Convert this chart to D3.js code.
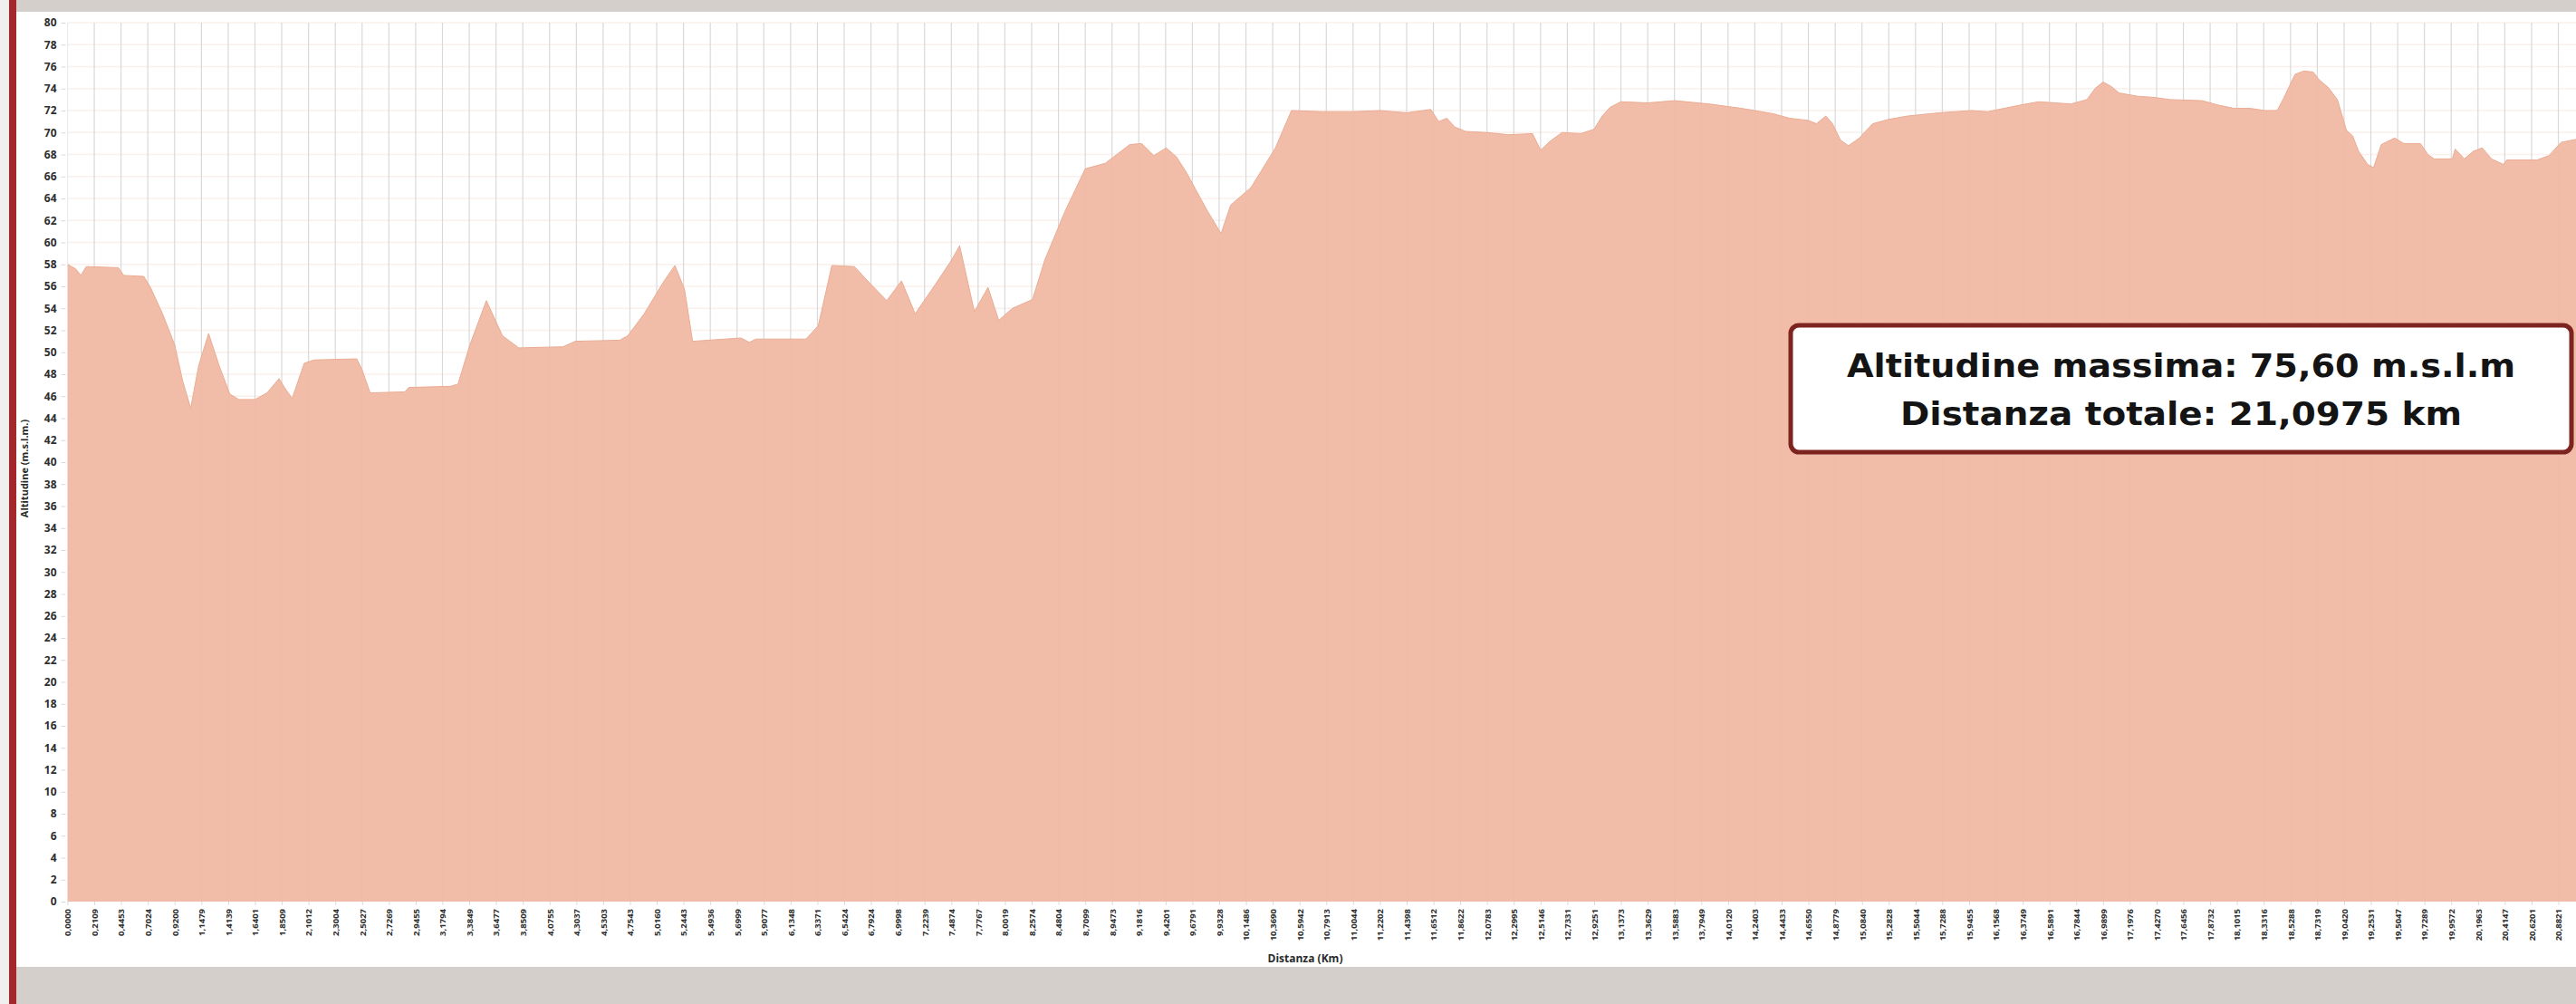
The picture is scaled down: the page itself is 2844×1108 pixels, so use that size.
<!DOCTYPE html>
<html lang="it">
<head>
    <meta charset="UTF-8">
    <title>Profilo altimetrico - Mezza maratona</title>

    <script src="https://d3js.org/d3.v7.min.js"></script>
    <style>
        body {
            margin: 0;
            background: #ffffff;
        }
        svg {
            display: block;
        }
        .tick text {
            font-family: "Open Sans", sans-serif;
            font-weight: 700;
            fill: #2e2e2e;
        }
        .axis_title {
            font-family: "Open Sans", sans-serif;
            font-weight: 700;
            fill: #2a2a2a;
        }
        .box_text {
            font-family: "DejaVu Sans Condensed", "Roboto Condensed", "Liberation Sans Narrow", "DejaVu Sans", sans-serif;
            font-stretch: condensed;
            font-weight: 700;
            font-size: 35px;
            fill: #141414;
        }
    </style>
</head>

<body>

<svg id="chart" width="2844" height="1108"></svg>

<script>

    // category labels of the x axis (km at every labelled point)
    const kmLabels = [
        "0,0000", "0,2109", "0,4453", "0,7024", "0,9200", "1,1479", "1,4139", "1,6401", "1,8509", "2,1012",
        "2,3004", "2,5027", "2,7269", "2,9455", "3,1794", "3,3849", "3,6477", "3,8509", "4,0755", "4,3037",
        "4,5303", "4,7543", "5,0160", "5,2443", "5,4936", "5,6999", "5,9077", "6,1348", "6,3371", "6,5424",
        "6,7924", "6,9998", "7,2239", "7,4874", "7,7767", "8,0019", "8,2574", "8,4804", "8,7099", "8,9473",
        "9,1816", "9,4201", "9,6791", "9,9328", "10,1486", "10,3690", "10,5942", "10,7913", "11,0044", "11,2202",
        "11,4398", "11,6512", "11,8622", "12,0783", "12,2995", "12,5146", "12,7331", "12,9251", "13,1373", "13,3629",
        "13,5883", "13,7949", "14,0120", "14,2403", "14,4433", "14,6550", "14,8779", "15,0840", "15,2828", "15,5044",
        "15,7288", "15,9455", "16,1568", "16,3749", "16,5891", "16,7844", "16,9899", "17,1976", "17,4270", "17,6456",
        "17,8732", "18,1015", "18,3316", "18,5288", "18,7319", "19,0420", "19,2531", "19,5047", "19,7289", "19,9572",
        "20,1963", "20,4147", "20,6201", "20,8821"
    ];

    // altitude profile: position along the category axis (in label steps) and altitude (m)
    const profilePos = [
        0, 0.3, 0.5, 0.7, 1.9, 2.1, 2.85, 3.1, 3.55, 4.0,
        4.3, 4.6, 4.9, 5.27, 5.66, 6.06, 6.4, 7.0, 7.45, 7.9,
        8.1, 8.39, 8.84, 9.2, 10.8, 11.0, 11.3, 12.6, 12.75, 14.3,
        14.58, 15.03, 15.64, 16.24, 16.85, 18.5, 18.96, 20.62, 20.92, 21.53,
        22.28, 22.68, 23.04, 23.34, 25.15, 25.46, 25.7, 27.57, 28.03, 28.54,
        29.38, 29.99, 30.59, 31.14, 31.65, 32.41, 33.01, 33.31, 33.86, 34.37,
        34.77, 35.28, 36.03, 36.49, 37.24, 38.0, 38.75, 39.66, 40.11, 40.56,
        41.02, 41.4, 41.77, 42.53, 43.07, 43.43, 44.19, 45.1, 45.7, 46.85, 48.0,
        49.0, 50.0, 50.9, 51.2, 51.5, 51.8, 52.2, 53.0, 53.8, 54.7,
        55.0, 55.35, 55.8, 56.5, 57.0, 57.3, 57.6, 58.0, 59.0, 60.0,
        61.3, 62.5, 63.0, 63.7, 64.3, 65.0, 65.3, 65.65, 65.9, 66.2,
        66.5, 66.9, 67.4, 68.0, 68.7, 69.9, 71.1, 71.7, 72.9, 73.6,
        74.8, 75.4, 75.7, 76.0, 76.3, 76.6, 77.3, 77.9, 78.5, 79.7,
        80.3, 80.9, 81.5, 82.04, 82.5, 82.72, 83.17, 83.51, 83.85, 84.07,
        84.41, 84.75, 85.09, 85.32, 85.54, 85.88, 86.1, 86.39, 86.89, 87.23,
        87.85, 88.13, 88.36, 89.04, 89.15, 89.49, 89.83, 90.16, 90.5, 90.95,
        91.07, 92.2, 92.65, 93.1, 93.7
    ];
    const profileAlt = [
        58.0, 57.6, 57.0, 57.8, 57.7, 57.0, 56.9, 55.9, 53.5, 50.7,
        47.4, 44.9, 48.8, 51.7, 48.8, 46.2, 45.7, 45.7, 46.3, 47.6,
        46.8, 45.8, 49.0, 49.3, 49.4, 48.4, 46.3, 46.4, 46.8, 46.9,
        47.1, 50.7, 54.7, 51.5, 50.4, 50.5, 51.0, 51.1, 51.5, 53.5,
        56.5, 57.9, 55.7, 51.0, 51.3, 50.9, 51.2, 51.2, 52.4, 57.9,
        57.8, 56.2, 54.7, 56.5, 53.5, 56.2, 58.4, 59.7, 53.7, 55.9,
        52.9, 54.0, 54.8, 58.4, 62.8, 66.7, 67.2, 68.9, 69.0, 67.9,
        68.6, 67.8, 66.4, 63.0, 60.8, 63.4, 65.0, 68.6, 72.0, 71.9, 71.9,
        72.0, 71.8, 72.1, 71.0, 71.3, 70.5, 70.1, 70.0, 69.8, 69.9,
        68.4, 69.2, 70.0, 69.9, 70.3, 71.5, 72.3, 72.8, 72.7, 72.9,
        72.6, 72.2, 72.0, 71.7, 71.3, 71.1, 70.8, 71.5, 70.8, 69.3,
        68.8, 69.5, 70.8, 71.2, 71.5, 71.8, 72.0, 71.9, 72.5, 72.8,
        72.6, 73.0, 74.0, 74.6, 74.2, 73.6, 73.3, 73.2, 73.0, 72.9,
        72.5, 72.2, 72.2, 72.0, 72.0, 73.0, 75.3, 75.6, 75.5, 74.8,
        74.1, 73.0, 70.2, 69.7, 68.3, 67.1, 66.8, 68.9, 69.5, 69.0,
        69.0, 68.0, 67.6, 67.6, 68.5, 67.6, 68.3, 68.6, 67.6, 67.1,
        67.5, 67.5, 67.9, 69.1, 69.4
    ];

    const boxLines = ["Altitudine massima: 75,60 m.s.l.m", "Distanza totale: 21,0975 km"];

    const W = 2844, H = 1108;
    const plot = {left: 74.5, right: 2844, top: 25, bottom: 995};
    const step = 29.57;   // pixels between two labelled categories

    let svg = d3.select("#chart");

    /////////////////// FRAME ///////////////////
    svg.append("rect").attr("width", W).attr("height", H).attr("fill", "#d4cfcb");
    svg.append("rect").attr("x", 0).attr("width", 10).attr("height", H).attr("fill", "#f2f0ef");
    svg.append("rect").attr("x", 10).attr("width", 8).attr("height", H).attr("fill", "#a2282b");
    svg.append("rect").attr("x", 18).attr("y", 13).attr("width", W - 18).attr("height", 1054)
        .attr("fill", "#ffffff");

    // scales
    let x = d3.scaleLinear()
        .domain([0, kmLabels.length - 1])
        .range([plot.left, plot.left + step * (kmLabels.length - 1)]);
    let y = d3.scaleLinear()
        .domain([0, 80])
        .range([plot.bottom, plot.top]);

    const yTicks = d3.range(0, 81, 2);

    svg.append("clipPath").attr("id", "plotClip")
        .append("rect")
        .attr("x", plot.left).attr("y", plot.top - 2)
        .attr("width", plot.right - plot.left).attr("height", plot.bottom - plot.top + 2);

    /////////////////// GRID ///////////////////
    let grid = svg.append("g").attr("clip-path", "url(#plotClip)");
    grid.selectAll(".hgrid")
        .data(yTicks)
        .enter()
        .append("line")
        .attr("x1", plot.left).attr("x2", plot.right)
        .attr("y1", d => y(d)).attr("y2", d => y(d))
        .attr("stroke", "#faf0ec")
        .attr("stroke-width", 1.5);
    grid.selectAll(".vgrid")
        .data(d3.range(kmLabels.length))
        .enter()
        .append("line")
        .attr("x1", d => x(d)).attr("x2", d => x(d))
        .attr("y1", plot.top).attr("y2", plot.bottom)
        .attr("stroke", "#d9d9d9")
        .attr("stroke-width", 1.2);

    /////////////////// AREA ///////////////////
    let area = d3.area()
        .x((d, i) => x(profilePos[i]))
        .y0(y(0))
        .y1(d => y(d));
    let line = d3.line()
        .x((d, i) => x(profilePos[i]))
        .y(d => y(d));

    let g = svg.append("g").attr("clip-path", "url(#plotClip)");
    g.append("path")
        .datum(profileAlt)
        .attr("d", area)
        .attr("fill", "#f1b9a3")
        .attr("fill-opacity", 0.94);
    g.append("path")
        .datum(profileAlt)
        .attr("d", line)
        .attr("fill", "none")
        .attr("stroke", "#eaab93")
        .attr("stroke-width", 1)
        .attr("stroke-linejoin", "round");

    /////////////////// AXES ///////////////////
    let yAxis = svg.append("g")
        .attr("transform", "translate(" + (plot.left - 2) + ",0)")
        .call(d3.axisLeft(y).tickValues(yTicks).tickSize(5).tickPadding(5));
    yAxis.select(".domain").remove();
    yAxis.selectAll(".tick line").attr("stroke", "#dadada");
    yAxis.selectAll(".tick text").style("font-size", "12px");

    let xAxis = svg.append("g")
        .attr("transform", "translate(0," + plot.bottom + ")")
        .call(d3.axisBottom(x)
            .tickValues(d3.range(kmLabels.length))
            .tickFormat(i => kmLabels[i])
            .tickSize(4));
    xAxis.select(".domain").remove();
    xAxis.selectAll(".tick line").attr("stroke", "#dadada");
    xAxis.selectAll(".tick text")
        .style("font-size", "9.5px")
        .attr("transform", "rotate(-90)")
        .attr("text-anchor", "end")
        .attr("x", -8)
        .attr("y", 0)
        .attr("dy", "0.35em");

    // axis titles
    svg.append("text")
        .attr("class", "axis_title")
        .attr("transform", "translate(31,517) rotate(-90)")
        .attr("text-anchor", "middle")
        .style("font-size", "11px")
        .text("Altitudine (m.s.l.m.)");
    svg.append("text")
        .attr("class", "axis_title")
        .attr("x", 1441)
        .attr("y", 1062)
        .attr("text-anchor", "middle")
        .style("font-size", "12px")
        .text("Distanza (Km)");

    /////////////////// INFO BOX ///////////////////
    let box = svg.append("g");
    box.append("rect")
        .attr("x", 1977).attr("y", 359)
        .attr("width", 862).attr("height", 140)
        .attr("rx", 9)
        .attr("fill", "#ffffff")
        .attr("stroke", "#7e2420")
        .attr("stroke-width", 5);
    box.selectAll(".box_text")
        .data(boxLines)
        .enter()
        .append("text")
        .attr("class", "box_text")
        .attr("x", 2408)
        .attr("y", (d, i) => 416 + i * 53)
        .attr("text-anchor", "middle")
        .attr("textLength", (d, i) => i === 0 ? 738 : 620)
        .attr("lengthAdjust", "spacingAndGlyphs")
        .text(d => d);

</script>
</body>
</html>
